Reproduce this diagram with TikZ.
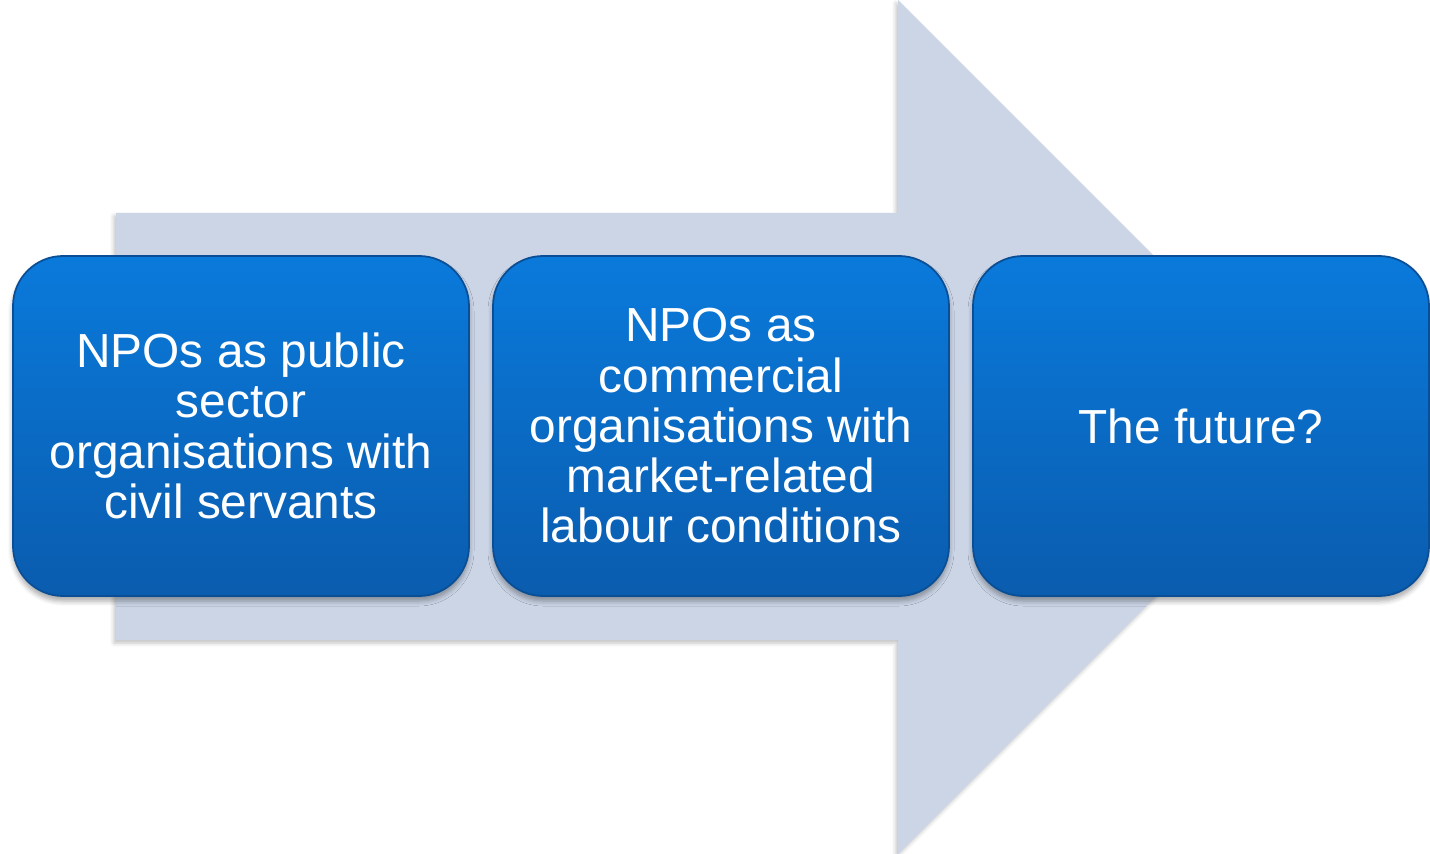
\documentclass[tikz,border=0pt]{standalone}
\usepackage{fontspec}
\setmainfont{Liberation Sans}
\usetikzlibrary{shadows.blur}
\definecolor{arrowfill}{HTML}{CBD5E6}
\definecolor{boxtop}{HTML}{0A7ADB}
\definecolor{boxbot}{HTML}{0A5CAE}
\definecolor{boxedge}{HTML}{0A4F96}
\begin{document}
\begin{tikzpicture}[x=0.1mm,y=-0.1mm,
  stagebox/.style={rectangle, rounded corners=5mm, minimum width=45.6mm,
    minimum height=34mm, top color=boxtop, bottom color=boxbot,
    draw=boxedge, line width=0.5pt, text=white, align=center,
    font=\fontsize{13.6}{14.3}\selectfont,
    blur shadow={shadow xshift=0mm, shadow yshift=-0.5mm, shadow blur radius=0.5mm,
      shadow blur steps=5, shadow opacity=35}},
  bigarrow/.style={fill=arrowfill,
    blur shadow={shadow xshift=-0.2mm, shadow yshift=-0.3mm, shadow blur radius=0.4mm,
      shadow blur steps=4, shadow opacity=25}}]
  \useasboundingbox (0,0) rectangle (1430,854);
  % background process arrow
  \path[bigarrow] (116,213) -- (898,213) -- (898,0) -- (1325,427)
    -- (898,854) -- (898,640) -- (116,640) -- cycle;
  % stages
  \node[stagebox] (s1) at (241,426) {NPOs as public\\sector\\organisations with\\civil servants};
  \node[stagebox] (s2) at (721,426) {NPOs as\\commercial\\organisations with\\market-related\\labour conditions};
  \node[stagebox] (s3) at (1201,426) {The future?};
\end{tikzpicture}
\end{document}
